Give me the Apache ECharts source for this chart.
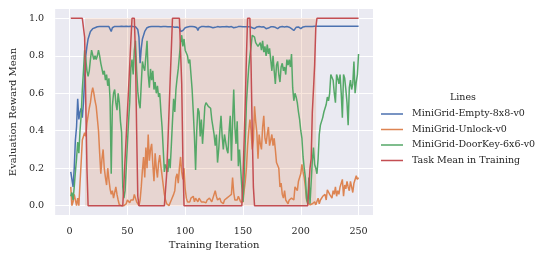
<!DOCTYPE html>
<html><head><meta charset="utf-8">
<script src="https://cdn.jsdelivr.net/npm/echarts@6/dist/echarts.min.js"></script>
<style>html,body{margin:0;padding:0;background:#fff}#c{width:546px;height:262px}</style>
</head><body><div id="c"></div>
<script>
const seriesNames = ['MiniGrid-Empty-8x8-v0', 'MiniGrid-Unlock-v0', 'MiniGrid-DoorKey-6x6-v0', 'Task Mean in Training'];
const xTicks = [0, 50, 100, 150, 200, 250];
const yTicks = [0, 0.2, 0.4, 0.6, 0.8, 1.0];
const shadeSpan = [13.3, 213.3];

const emptyValues = [
0.18,0.18,0.10,0.20,0.35,0.42,0.57,0.46,0.50,0.52,0.47,0.55,0.68,0.80,0.85,0.89,0.91,0.93,0.94,0.945,0.95,0.95,
0.952,0.955,0.953,0.956,0.955,0.957,0.954,0.956,0.955,0.957,0.955,0.956,0.95,
0.93,
0.95,0.955,0.957,0.956,0.957,0.958,0.956,0.957,0.958,0.957,0.956,0.957,0.958,0.957,0.956,0.957,0.958,0.957,0.956,0.957,0.955,0.95,0.94,
0.90,0.76,0.84,0.89,0.91,0.93,0.94,0.95,
0.952,0.955,0.956,0.957,0.956,0.957,0.958,0.957,0.956,0.957,0.956,0.955,0.957,0.956,0.955,0.957,0.956,0.955,0.954,0.955,0.956,0.955,0.954,0.953,0.955,0.954,0.953,
0.95,0.93,0.92,0.935,0.945,0.95,
0.952,0.954,0.955,0.956,0.955,0.957,0.956,0.955,0.957,0.95,
0.935,0.95,
0.955,0.956,0.955,0.957,0.956,0.955,0.956,0.957,0.955,0.954,
0.952,0.95,0.945,0.952,0.955,0.956,0.955,0.954,0.956,0.955,
0.956,0.955,0.957,0.956,0.955,0.954,0.955,0.956,0.952,0.95,
0.945,0.952,0.955,0.956,0.955,0.957,0.956,0.955,0.956,0.955,
0.956,0.955,0.957,0.955,0.954,0.95,0.948,0.945,0.95,0.954,
0.955,0.956,0.955,0.954,0.956,0.955,0.952,0.945,0.94,0.948,
0.953,0.955,0.956,0.955,0.954,0.952,0.95,0.945,0.95,0.954,
0.955,0.956,0.955,0.954,0.955,0.956,0.955,0.953,0.95,0.945,
0.94,0.935,0.945,0.952,0.955,0.954,0.95,0.945,0.95,0.954,
0.955,0.956,0.955,0.956,0.955,0.956,0.957,0.956,0.957,0.958,
0.957,0.958,0.958,
0.958,0.958,0.958,0.958,0.958,0.958,0.958,0.958,0.958,0.958,
0.958,0.958,0.958,0.958,0.958,0.958,0.958,0.958,0.958,0.958,
0.958,0.958,0.958,0.958,0.958,0.958,0.958,0.958,0.958,0.958,
0.958,0.958,0.958,0.958,0.958
];

const unlockValues = [
0.10,0.00,0.02,0.06,0.05,0.00,0.04,0.00,0.12,0.23,
0.35,0.37,0.39,0.37,0.44,0.48,0.52,0.55,0.60,0.63,
0.60,0.56,0.53,0.52,0.40,0.28,0.17,0.25,0.30,0.20,
0.15,0.11,0.20,0.14,0.09,0.06,0.08,0.04,0.07,0.10,
0.06,0.03,0.005,0,0,0,0,0,0.01,0.03,
0.02,0.015,0.03,0.02,0.03,0.06,0.04,0.02,0.01,0.00,
0.03,0.10,0.19,0.26,0.15,0.31,0.20,0.38,0.24,0.30,
0.33,0.22,0.13,0.28,0.20,0.15,0.23,0.27,0.21,0.16,
0.11,0.06,0.03,0.01,0.00,0.00,0.01,0.03,0.02,0.06,
0.08,0.15,0.17,0.12,0.20,0.26,0.18,0.14,0.20,0.09,
0.04,0.02,0.03,0.02,0.04,0.03,0.05,0.02,0.04,0.03,
0.02,0.04,0.03,0.02,0.03,0.02,0.03,0.015,0.03,0.02,
0.04,0.03,0.02,0.03,0.06,0.08,0.05,0.03,0.02,0.04,
0.02,0.03,0.01,0.03,0.02,0.04,0.03,0.05,0.04,0.06,
0.15,0.07,0.03,0.04,0.03,0.05,0.06,0.02,0.01,0.02,
0.08,0.13,0.20,0.32,0.40,0.46,0.40,0.30,0.35,0.53,
0.45,0.39,0.25,0.38,0.33,0.30,0.42,0.48,0.36,0.33,
0.38,0.42,0.32,0.35,0.38,0.32,0.36,0.30,0.23,0.24,
0.20,0.10,0.12,0.06,0.04,0.08,0.03,0.04,0.01,0.03,
0.02,0.04,0.05,0.03,0.10,0.10,0.08,0.13,0.12,0.17,
0.22,0.18,0.15,0.10,0.03,0.015,0.01,0.005,0.00,0.01,
0.00,0.02,0.005,0.01,0.04,0.01,0.03,0.02,0.05,0.04,
0.06,0.03,0.085,0.088,0.06,0.07,0.04,0.08,0.06,0.10,
0.05,0.08,0.06,0.10,0.12,0.14,0.05,0.11,0.09,0.13,
0.10,0.08,0.13,0.10,0.07,0.12,0.14,0.16,0.14,0.15
];

const doorKeyValues = [
0.05,0.07,0.03,0.10,0.18,0.25,0.34,0.28,0.40,0.48,
0.62,0.72,0.83,0.78,0.72,0.69,0.72,0.78,0.83,0.82,
0.78,0.80,0.78,0.80,0.83,0.80,0.76,0.73,0.70,0.72,
0.67,0.70,0.64,0.68,0.57,0.17,0.53,0.60,0.62,0.55,
0.51,0.60,0.55,0.45,0.39,0.10,0.04,0.08,0.20,0.33,
0.45,0.55,0.74,0.78,0.70,0.83,0.88,0.72,0.61,0.55,
0.52,0.65,0.77,0.74,0.72,0.80,0.88,0.70,0.63,0.73,
0.67,0.72,0.62,0.66,0.60,0.64,0.58,0.60,0.50,0.42,
0.30,0.18,0.22,0.20,0.18,0.25,0.20,0.32,0.45,0.57,
0.50,0.62,0.68,0.73,0.80,0.87,0.91,0.85,0.89,0.83,
0.84,0.80,0.76,0.78,0.70,0.62,0.50,0.37,0.19,0.40,
0.52,0.50,0.37,0.46,0.33,0.42,0.53,0.55,0.54,0.53,
0.53,0.52,0.46,0.42,0.38,0.32,0.38,0.23,0.30,0.40,
0.48,0.37,0.30,0.38,0.34,0.30,0.28,0.40,0.48,0.24,
0.45,0.62,0.42,0.33,0.45,0.21,0.30,0.20,0.10,0.02,
0.15,0.35,0.55,0.65,0.74,0.80,0.85,0.91,0.92,0.90,
0.87,0.88,0.85,0.86,0.87,0.83,0.88,0.82,0.85,0.80,
0.86,0.81,0.84,0.78,0.72,0.80,0.72,0.65,0.75,0.77,
0.70,0.66,0.74,0.76,0.72,0.74,0.70,0.78,0.75,0.78,
0.74,0.81,0.63,0.56,0.60,0.58,0.55,0.50,0.46,0.40,
0.36,0.26,0.20,0.15,0.04,0.01,0.15,0.01,0.005,0.24,
0.31,0.22,0.20,0.17,0.25,0.38,0.43,0.42,0.47,0.50,
0.52,0.54,0.58,0.56,0.60,0.70,0.69,0.67,0.60,0.55,
0.70,0.68,0.65,0.70,0.60,0.47,0.70,0.68,0.62,0.55,
0.43,0.63,0.67,0.62,0.65,0.77,0.60,0.66,0.70,0.81
];

const taskMeanValues = [
1,1,1,1,1,1,1,1,1,1,
1,1,0.9,0.55,0.2,0,0,0,0,0,
0,0,0,0,0,0,0,0,0,0,
0,0,0,0,0,0,0,0,0,0,
0,0,0,0,0,0,0.12,0.25,0.37,0.5,
0.62,0.75,0.88,1,1,1,0.8,0.4,0.05,0,
0,0,0,0,0,0,0,0,0,0,
0,0,0,0,0,0,0,0,0,0,
0,0,0,0.17,0.33,0.5,0.67,0.83,1,1,
1,1,1,1,1,1,0.65,0.25,0,0,
0,0,0,0,0,0,0,0,0,0,
0,0,0,0,0,0,0,0,0,0,
0,0,0,0,0,0,0,0,0,0,
0,0,0,0,0,0,0,0,0,0,
0,0,0,0,0,0,0,0,0,0.15,
0.35,0.55,0.8,1,1,1,0.75,0.4,0.1,0,
0,0,0,0,0,0,0,0,0,0,
0,0,0,0,0,0,0,0,0,0,
0,0,0,0,0,0,0,0,0,0,
0,0,0,0,0,0,0,0,0,0,
0,0,0,0,0,0,0,0.2,0.25,0.5,
0.62,0.75,0.95,1,1,1,1,1,1,1,
1,1,1,1,1,1,1,1,1,1,
1,1,1,1,1,1,1,1,1,1,
1,1,1,1,1,1,1,1,1,1
];

const colors = ['#4C72B0', '#DD8452', '#55A868', '#C44E52'];
const FONT = 'DejaVu Serif';
const TXT = '#262626';
// legend handle: a thin horizontal bar inside a 22x12 box (tiny corner specks fix the box)
const LINE_ICON = 'path://M0,0L0.01,0L0.01,0.01Z M0,5.25L22,5.25L22,6.75L0,6.75Z M0,12L0.01,12L0.01,11.99Z';

function pairs(vals) { return vals.map((v, i) => [i + 1, v]); }
const allValues = [emptyValues, unlockValues, doorKeyValues, taskMeanValues];

const chart = echarts.init(document.getElementById('c'), null, { renderer: 'canvas' });

const lineSeries = allValues.map((vals, k) => ({
  name: seriesNames[k],
  type: 'line',
  data: pairs(vals),
  symbol: 'none',
  z: 3,
  lineStyle: { color: colors[k], width: 1.5 },
  itemStyle: { color: colors[k] },
  silent: true,
  animation: false
}));

const option = {
  animation: false,
  color: colors,
  grid: {
    left: 52, right: 173, top: 9, bottom: 47,
    show: true, backgroundColor: '#EAEAF2', borderWidth: 0
  },
  xAxis: {
    type: 'value', min: -12.5, max: 262.5,
    name: 'Training Iteration', nameLocation: 'middle', nameGap: 25,
    nameTextStyle: { fontFamily: FONT, fontSize: 10, color: TXT },
    axisLine: { show: false },
    axisTick: { show: false, customValues: xTicks },
    axisLabel: { customValues: xTicks, fontFamily: FONT, fontSize: 9.6, color: TXT, margin: 11 },
    splitLine: { show: true, lineStyle: { color: '#ffffff', width: 1 } }
  },
  yAxis: {
    type: 'value', min: -0.05, max: 1.05,
    name: 'Evaluation Reward Mean', nameLocation: 'middle', nameGap: 32,
    nameTextStyle: { fontFamily: FONT, fontSize: 10, color: TXT },
    axisLine: { show: false },
    axisTick: { show: false, customValues: yTicks },
    axisLabel: { customValues: yTicks, fontFamily: FONT, fontSize: 9.6, color: TXT, margin: 11,
      formatter: v => v.toFixed(1) },
    splitLine: { show: true, lineStyle: { color: '#ffffff', width: 1 } }
  },
  legend: {
    data: seriesNames.map(n => ({ name: n, icon: LINE_ICON })),
    orient: 'vertical',
    left: 381, top: 108,
    padding: 0,
    itemWidth: 22, itemHeight: 12, itemGap: 3.5,
    textStyle: { fontFamily: FONT, fontSize: 9.5, color: TXT, padding: [0, 0, 0, 4] }
  },
  graphic: [{
    type: 'text', x: 463, y: 98,
    style: { text: 'Lines', fontFamily: FONT, fontSize: 9.5, fill: TXT, align: 'center', verticalAlign: 'middle' }
  }],
  series: [{
    name: 'shade', type: 'line', data: [], z: 1, silent: true,
    markArea: {
      silent: true,
      itemStyle: { color: 'rgba(221,132,82,0.2)' },
      data: [[{ xAxis: shadeSpan[0], yAxis: 0 }, { xAxis: shadeSpan[1], yAxis: 1 }]]
    }
  }].concat(lineSeries)
};
chart.setOption(option);
</script>
</body></html>
